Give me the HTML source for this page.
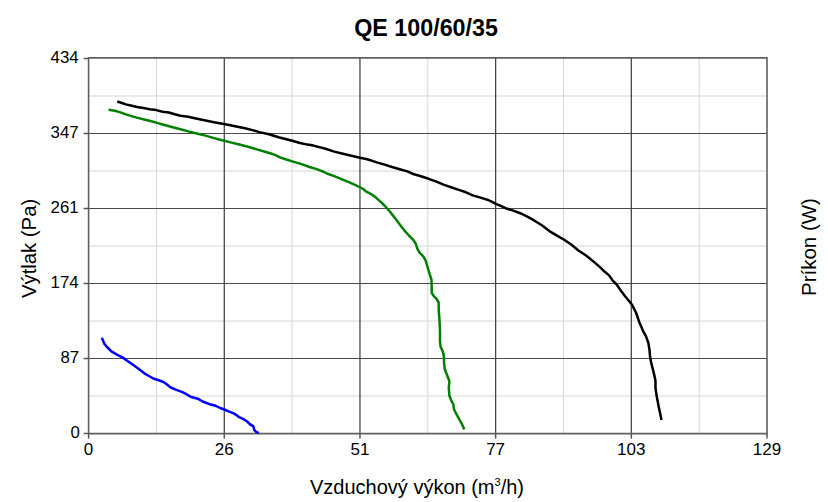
<!DOCTYPE html>
<html><head><meta charset="utf-8"><style>
html,body{margin:0;padding:0;background:#fff;width:828px;height:502px;overflow:hidden}
body{position:relative;font-family:"Liberation Sans",sans-serif;color:#000}
svg{position:absolute;left:0;top:0}
.t{position:absolute;white-space:nowrap;line-height:1}
.xl{position:absolute;top:441px;width:100px;text-align:center;font-size:17px;line-height:1}
.yl{position:absolute;left:0;width:78.6px;text-align:right;font-size:16.8px;line-height:20px}
</style></head><body>
<svg width="828" height="502" viewBox="0 0 828 502">
<line x1="156.44" y1="57.90" x2="156.44" y2="433.60" stroke="#d6d6d6" stroke-width="1"/>
<line x1="88.60" y1="96.00" x2="767.00" y2="96.00" stroke="#d6d6d6" stroke-width="1"/>
<line x1="292.12" y1="57.90" x2="292.12" y2="433.60" stroke="#d6d6d6" stroke-width="1"/>
<line x1="88.60" y1="171.00" x2="767.00" y2="171.00" stroke="#d6d6d6" stroke-width="1"/>
<line x1="427.80" y1="57.90" x2="427.80" y2="433.60" stroke="#d6d6d6" stroke-width="1"/>
<line x1="88.60" y1="246.00" x2="767.00" y2="246.00" stroke="#d6d6d6" stroke-width="1"/>
<line x1="563.48" y1="57.90" x2="563.48" y2="433.60" stroke="#d6d6d6" stroke-width="1"/>
<line x1="88.60" y1="321.00" x2="767.00" y2="321.00" stroke="#d6d6d6" stroke-width="1"/>
<line x1="699.16" y1="57.90" x2="699.16" y2="433.60" stroke="#d6d6d6" stroke-width="1"/>
<line x1="88.60" y1="396.00" x2="767.00" y2="396.00" stroke="#d6d6d6" stroke-width="1"/>
<line x1="224.28" y1="57.90" x2="224.28" y2="433.60" stroke="#404040" stroke-width="1.25"/>
<line x1="88.60" y1="133.50" x2="767.00" y2="133.50" stroke="#4a4a4a" stroke-width="1"/>
<line x1="359.96" y1="57.90" x2="359.96" y2="433.60" stroke="#404040" stroke-width="1.25"/>
<line x1="88.60" y1="208.50" x2="767.00" y2="208.50" stroke="#4a4a4a" stroke-width="1"/>
<line x1="495.64" y1="57.90" x2="495.64" y2="433.60" stroke="#404040" stroke-width="1.25"/>
<line x1="88.60" y1="283.50" x2="767.00" y2="283.50" stroke="#4a4a4a" stroke-width="1"/>
<line x1="631.32" y1="57.90" x2="631.32" y2="433.60" stroke="#404040" stroke-width="1.25"/>
<line x1="88.60" y1="358.50" x2="767.00" y2="358.50" stroke="#4a4a4a" stroke-width="1"/>
<rect x="88.60" y="57.90" width="678.40" height="375.70" fill="none" stroke="#606060" stroke-width="1.6" stroke-linejoin="round"/>
<line x1="88.60" y1="433.60" x2="88.60" y2="438.60" stroke="#555" stroke-width="1.5"/>
<line x1="83.60" y1="58.50" x2="88.60" y2="58.50" stroke="#555" stroke-width="1.5"/>
<line x1="224.28" y1="433.60" x2="224.28" y2="438.60" stroke="#555" stroke-width="1.5"/>
<line x1="83.60" y1="133.50" x2="88.60" y2="133.50" stroke="#555" stroke-width="1.5"/>
<line x1="359.96" y1="433.60" x2="359.96" y2="438.60" stroke="#555" stroke-width="1.5"/>
<line x1="83.60" y1="208.50" x2="88.60" y2="208.50" stroke="#555" stroke-width="1.5"/>
<line x1="495.64" y1="433.60" x2="495.64" y2="438.60" stroke="#555" stroke-width="1.5"/>
<line x1="83.60" y1="283.50" x2="88.60" y2="283.50" stroke="#555" stroke-width="1.5"/>
<line x1="631.32" y1="433.60" x2="631.32" y2="438.60" stroke="#555" stroke-width="1.5"/>
<line x1="83.60" y1="358.50" x2="88.60" y2="358.50" stroke="#555" stroke-width="1.5"/>
<line x1="767.00" y1="433.60" x2="767.00" y2="438.60" stroke="#555" stroke-width="1.5"/>
<line x1="83.60" y1="433.50" x2="88.60" y2="433.50" stroke="#555" stroke-width="1.5"/>
<polyline points="117.3,101.5 122.0,103.0 125.9,104.4 130.7,105.5 137.1,107.0 143.5,108.1 149.8,109.2 156.2,110.1 162.6,111.7 168.9,112.5 174.7,114.2 180.5,115.8 188.2,116.8 195.9,118.5 205.6,120.5 215.2,122.4 223.9,124.1 232.6,125.8 245.0,128.3 253.5,130.4 259.3,132.1 269.0,134.3 278.6,137.2 286.4,139.3 292.2,140.8 299.9,143.0 307.6,144.6 313.4,145.6 324.7,148.5 334.3,151.6 344.0,154.0 353.6,156.2 359.9,157.7 367.2,159.3 376.8,162.4 384.6,164.6 392.0,167.0 399.7,169.2 407.4,171.4 413.2,174.0 420.9,176.2 428.6,178.8 436.4,181.7 444.1,184.9 451.8,187.5 459.6,190.1 466.0,192.3 472.7,195.4 480.5,197.6 488.2,200.0 492.1,201.9 495.9,203.8 500.7,205.8 505.6,208.2 513.3,210.6 521.0,213.5 527.8,216.9 534.6,220.7 542.2,225.5 549.4,231.1 556.5,235.3 563.7,239.5 570.9,244.3 578.1,250.3 586.4,255.7 593.6,261.6 600.0,267.1 604.2,271.3 609.1,275.4 612.5,280.3 616.7,284.5 620.9,290.8 625.1,296.3 629.2,301.2 632.0,304.7 634.1,308.9 636.2,313.0 637.6,317.2 639.0,321.4 641.1,326.3 643.0,330.8 645.9,336.1 648.3,342.7 649.5,349.9 650.1,357.1 651.3,363.1 653.1,370.2 654.4,375.6 655.5,381.1 655.5,388.1 656.5,395.1 658.6,406.2 660.4,414.6 661.5,420.0" fill="none" stroke="#000" stroke-width="2.5" stroke-linejoin="round" stroke-linecap="butt"/>
<polyline points="108.6,109.8 114.8,110.7 120.4,112.4 125.9,114.4 132.3,116.4 138.7,118.1 145.1,119.7 151.4,121.3 157.0,122.9 162.6,124.5 170.0,126.5 172.7,127.2 180.5,129.2 189.2,131.6 197.7,133.7 205.5,135.6 213.2,137.9 219.0,139.5 224.3,140.7 230.6,142.4 238.3,144.3 248.0,146.7 257.6,149.6 265.0,151.8 270.8,153.5 275.6,155.1 280.5,157.6 286.3,159.5 293.0,161.6 301.5,164.1 309.5,167.0 316.7,169.1 324.0,172.0 326.9,173.5 334.9,176.4 342.1,179.3 350.0,182.6 355.0,184.8 359.4,187.0 363.0,188.8 365.9,191.4 368.8,192.8 374.6,196.4 379.0,200.4 383.3,204.3 387.7,209.0 390.0,211.8 394.6,217.6 399.4,224.1 404.1,230.1 408.9,235.5 413.7,240.3 415.9,243.9 417.3,248.7 419.7,252.8 423.3,256.4 425.7,260.6 427.5,267.0 429.6,273.9 431.4,279.5 431.7,286.5 431.7,292.8 433.8,296.2 436.6,299.0 438.7,302.5 438.7,310.2 439.4,318.5 440.0,330.8 440.0,341.5 440.6,346.9 442.7,351.1 443.9,355.9 444.1,363.1 444.7,369.0 446.5,373.8 448.9,379.8 449.4,381.5 448.8,388.0 449.4,395.7 451.4,400.9 453.3,404.1 454.0,409.3 455.9,413.2 459.1,419.0 462.4,424.9 464.3,429.4" fill="none" stroke="#008000" stroke-width="2.5" stroke-linejoin="round" stroke-linecap="butt"/>
<polyline points="101.8,337.7 103.2,341.0 104.3,343.7 107.0,347.0 111.4,351.4 116.9,354.6 122.4,357.4 127.9,361.2 133.3,365.0 138.8,368.9 144.3,373.3 149.8,376.5 154.0,378.8 158.0,380.0 163.5,382.0 166.7,384.3 170.7,387.5 176.3,389.9 181.9,391.9 185.9,393.9 190.6,396.7 197.8,398.7 202.6,401.5 209.5,404.2 215.8,405.8 220.2,408.0 224.3,409.5 229.2,411.6 233.7,413.4 237.3,415.6 239.1,417.2 243.6,419.2 247.2,421.5 249.8,424.1 253.4,426.4 254.3,430.0 256.1,431.8 258.8,433.1" fill="none" stroke="#0000ff" stroke-width="2.5" stroke-linejoin="round" stroke-linecap="butt"/>
</svg>
<div class="t" style="left:354.2px;top:16.8px;font-size:23.3px;font-weight:bold">QE 100/60/35</div>
<div class="xl" style="left:38.6px">0</div>
<div class="xl" style="left:174.3px">26</div>
<div class="xl" style="left:310.0px">51</div>
<div class="xl" style="left:445.6px">77</div>
<div class="xl" style="left:581.3px">103</div>
<div class="xl" style="left:717.0px">129</div>
<div class="yl" style="top:47.7px;left:0.0px">434</div>
<div class="yl" style="top:122.7px;left:0.0px">347</div>
<div class="yl" style="top:197.7px;left:0.0px">261</div>
<div class="yl" style="top:272.7px;left:0.0px">174</div>
<div class="yl" style="top:347.7px;left:0.5px">87</div>
<div class="yl" style="top:422.7px;left:1.2px">0</div>
<div class="t" style="left:310px;top:477px;font-size:20px">Vzduchový výkon (m<sup style="font-size:11px;vertical-align:0;position:relative;top:-8.5px">3</sup>/h)</div>
<div class="t" style="left:18.5px;top:298px;font-size:20.3px;transform:rotate(-90deg);transform-origin:0 0">Výtlak (Pa)</div>
<div class="t" style="left:799px;top:296px;font-size:20.5px;transform:rotate(-90deg);transform-origin:0 0">Príkon (W)</div>
</body></html>
